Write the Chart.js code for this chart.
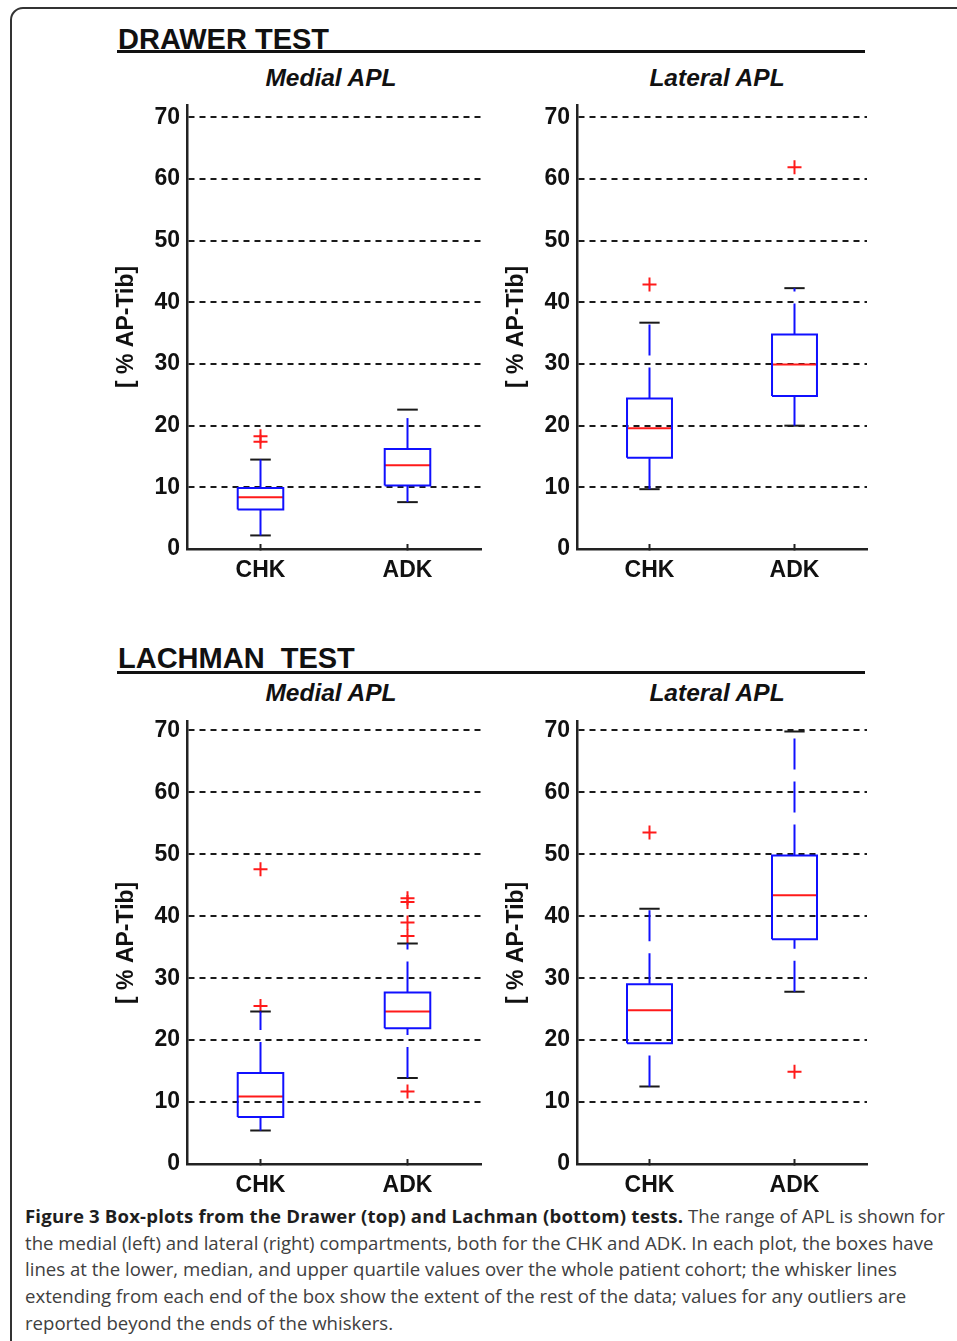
<!DOCTYPE html>
<html>
<head>
<meta charset="utf-8">
<script src="https://cdn.jsdelivr.net/npm/chart.js@4.4.1/dist/chart.umd.min.js"></script>
<style>
  body { margin:0; background:#fff; width:957px; height:1341px; overflow:hidden; position:relative; font-family:"Liberation Sans", Arial, sans-serif; }
  .frame { position:absolute; left:10px; top:7px; width:1000px; height:1400px; border:2px solid #333; border-radius:13px; }
  .head { position:absolute; left:118px; font-weight:bold; font-size:29px; line-height:29px; color:#111; white-space:pre; }
  .rule { position:absolute; left:117px; width:748px; height:3px; background:#111; }
  .sub { position:absolute; width:300px; text-align:center; font-style:italic; font-weight:bold; font-size:24.5px; line-height:24.5px; color:#111; }
  canvas { position:absolute; }
  .cap { position:absolute; left:25px; top:1203px; font-family:"Open Sans", sans-serif; font-size:18.6px; line-height:26.7px; color:#404040; white-space:nowrap; }
  .cap b { color:#1e1e1e; letter-spacing:0.17px; }
</style>
</head>
<body>
<div class="frame"></div>

<div class="head" style="top:25px">DRAWER TEST</div>
<div class="rule" style="top:50px"></div>
<div class="sub" style="left:181px; top:66px">Medial APL</div>
<div class="sub" style="left:567px; top:66px">Lateral APL</div>

<div class="head" style="top:644px">LACHMAN  TEST</div>
<div class="rule" style="top:671px"></div>
<div class="sub" style="left:181px; top:681px">Medial APL</div>
<div class="sub" style="left:567px; top:681px">Lateral APL</div>

<canvas id="drawer-medial" width="390" height="500" style="left:100px; top:85px"></canvas>
<canvas id="drawer-lateral" width="390" height="500" style="left:490px; top:85px"></canvas>
<canvas id="lachman-medial" width="390" height="500" style="left:100px; top:700px"></canvas>
<canvas id="lachman-lateral" width="390" height="500" style="left:490px; top:700px"></canvas>

<div class="cap"><b>Figure 3 Box-plots from the Drawer (top) and Lachman (bottom) tests.</b> The range of APL is shown for<br>the medial (left) and lateral (right) compartments, both for the CHK and ADK. In each plot, the boxes have<br>lines at the lower, median, and upper quartile values over the whole patient cohort; the whisker lines<br>extending from each end of the box show the extent of the rest of the data; values for any outliers are<br>reported beyond the ends of the whiskers.</div>

<script>
// grupos e ticks
const groups = ['CHK', 'ADK'];
const yTicks = [0, 10, 20, 30, 40, 50, 60, 70];

// [whisker inferior, Q1, mediana, Q3, whisker superior]
const drawerMedialCHK = [2.2, 6.4, 8.4, 9.9, 14.5];
const drawerMedialADK = [7.6, 10.3, 13.6, 16.2, 22.6];
const drawerMedialOutCHK = [17.4, 18.3];
const drawerMedialOutADK = [];

const drawerLateralCHK = [9.7, 14.8, 19.6, 24.4, 36.7];
const drawerLateralADK = [20.0, 24.8, 29.9, 34.8, 42.3];
const drawerLateralOutCHK = [42.9];
const drawerLateralOutADK = [61.9];

const lachmanMedialCHK = [5.4, 7.6, 10.9, 14.7, 24.6];
const lachmanMedialADK = [13.9, 21.9, 24.6, 27.7, 35.6];
const lachmanMedialOutCHK = [25.5, 47.6];
const lachmanMedialOutADK = [11.7, 36.8, 39.0, 42.3, 42.9];

const lachmanLateralCHK = [12.5, 19.5, 24.8, 29.0, 41.2];
const lachmanLateralADK = [27.8, 36.3, 43.4, 49.8, 69.8];
const lachmanLateralOutCHK = [53.5];
const lachmanLateralOutADK = [14.9];

const BLUE = '#1010ff';
const RED = '#ff1a1a';
const BLACK = '#1a1a1a';
const WHISKER_DASH = [31, 12];
const BOX_HALF = 0.155;
const CAP_HALF = 0.07;
const FONT = '"Liberation Sans", Arial, sans-serif';

function line(points, color, dash) {
    return {
        data: points,
        showLine: true,
        borderColor: color,
        borderWidth: 2,
        borderDash: dash || [],
        pointRadius: 0,
        fill: false
    };
}

function boxSets(stats, outliers, pos) {
    const [low, q1, med, q3, high] = stats;
    return [
        line([{ x: pos, y: low }, { x: pos, y: q1 }], BLUE, WHISKER_DASH),
        line([{ x: pos, y: q3 }, { x: pos, y: high }], BLUE, WHISKER_DASH),
        line([{ x: pos - CAP_HALF, y: low }, { x: pos + CAP_HALF, y: low }], BLACK),
        line([{ x: pos - CAP_HALF, y: high }, { x: pos + CAP_HALF, y: high }], BLACK),
        line([
            { x: pos - BOX_HALF, y: q1 }, { x: pos + BOX_HALF, y: q1 },
            { x: pos + BOX_HALF, y: q3 }, { x: pos - BOX_HALF, y: q3 },
            { x: pos - BOX_HALF, y: q1 }
        ], BLUE),
        line([{ x: pos - BOX_HALF, y: med }, { x: pos + BOX_HALF, y: med }], RED),
        {
            data: outliers.map(v => ({ x: pos, y: v })),
            showLine: false,
            pointStyle: 'cross',
            pointRadius: 7,
            pointBorderColor: RED,
            borderColor: RED,
            pointBorderWidth: 2
        }
    ];
}

function buildChart(id, yMax, padTop, padRight, chk, adk, outChk, outAdk) {
    const ctx = document.getElementById(id).getContext('2d');
    return new Chart(ctx, {
        type: 'scatter',
        data: {
            datasets: [...boxSets(chk, outChk, 1), ...boxSets(adk, outAdk, 2)]
        },
        options: {
            responsive: false,
            animation: false,
            devicePixelRatio: 1,
            layout: { padding: { top: padTop, right: padRight, bottom: 0, left: 0 } },
            plugins: {
                legend: { display: false },
                tooltip: { enabled: false }
            },
            scales: {
                x: {
                    type: 'linear',
                    min: 0.5,
                    max: 2.5,
                    afterBuildTicks: s => { s.ticks = groups.map((g, i) => ({ value: i + 1 })); },
                    afterFit: s => { s.height = 36; },
                    ticks: {
                        callback: v => groups[v - 1],
                        font: { family: FONT, size: 23, weight: 'bold', lineHeight: 1 },
                        color: '#111',
                        padding: 15,
                        maxRotation: 0,
                        autoSkip: false
                    },
                    grid: { display: true, drawOnChartArea: false, drawTicks: true, tickLength: -5, tickWidth: 2, color: '#222' },
                    border: { display: true, color: '#222', width: 2.5 }
                },
                y: {
                    type: 'linear',
                    min: 0,
                    max: yMax,
                    afterBuildTicks: s => { s.ticks = yTicks.map(v => ({ value: v })); },
                    afterFit: s => { s.width = 87; },
                    ticks: {
                        font: { family: FONT, size: 23, weight: 'bold', lineHeight: 1 },
                        color: '#111',
                        padding: 7,
                        autoSkip: false
                    },
                    grid: {
                        drawTicks: false,
                        lineWidth: 2,
                        color: c => (c.tick && c.tick.value === 0) ? 'rgba(0,0,0,0)' : '#1a1a1a'
                    },
                    border: { display: true, color: '#222', width: 2.5, dash: [6, 5] },
                    title: {
                        display: true,
                        text: '[ % AP-Tib]',
                        font: { family: FONT, size: 23, weight: 'bold', lineHeight: 1 },
                        color: '#111',
                        padding: { top: 15.5, bottom: 0 }
                    }
                }
            }
        }
    });
}

buildChart('drawer-medial', 72, 20, 8, drawerMedialCHK, drawerMedialADK, drawerMedialOutCHK, drawerMedialOutADK);
buildChart('drawer-lateral', 72, 20, 13, drawerLateralCHK, drawerLateralADK, drawerLateralOutCHK, drawerLateralOutADK);
buildChart('lachman-medial', 71.4, 21.7, 8, lachmanMedialCHK, lachmanMedialADK, lachmanMedialOutCHK, lachmanMedialOutADK);
buildChart('lachman-lateral', 71.4, 21.7, 13, lachmanLateralCHK, lachmanLateralADK, lachmanLateralOutCHK, lachmanLateralOutADK);
</script>
</body>
</html>
